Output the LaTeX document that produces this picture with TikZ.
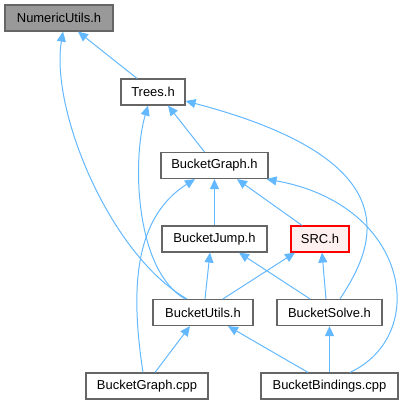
\documentclass[tikz,border=0pt]{standalone}
\usepackage{fontspec}
\setmainfont{Liberation Sans}
\usetikzlibrary{arrows.meta,calc}
\definecolor{boxgray}{HTML}{666666}
\definecolor{fillgray}{HTML}{999999}
\definecolor{edgeblue}{HTML}{63B8FF}
\definecolor{srcfill}{HTML}{FFF0F0}
\tikzset{
  box/.style={draw=boxgray, line width=1.2bp, fill=white, minimum height=26bp, inner sep=0pt, font=\fontsize{13}{15}\selectfont, text=black},
  edge/.style={draw=edgeblue, line width=1bp, -{Triangle[length=10bp,width=9bp]}}
}
\begin{document}
\begin{tikzpicture}[x=1bp,y=-1bp]
\useasboundingbox (0,0) rectangle (408,405);
\node[box, fill=fillgray, minimum width=108bp] (num) at (59,18) {NumericUtils.h};
\node[box, minimum width=64bp] (trees) at (153,92) {Trees.h};
\node[box, minimum width=107bp] (bgh) at (214.5,165.5) {BucketGraph.h};
\node[box, minimum width=105bp] (bjump) at (214.5,239) {BucketJump.h};
\node[box, draw=red, fill=srcfill, minimum width=58bp] (src) at (320,239) {SRC.h};
\node[box, minimum width=100bp] (butils) at (203,312.5) {BucketUtils.h};
\node[box, minimum width=105bp] (bsolve) at (329.5,312.5) {BucketSolve.h};
\node[box, minimum width=122bp] (bgcpp) at (147,386) {BucketGraph.cpp};
\node[box, minimum width=137bp] (bbind) at (329.5,386) {BucketBindings.cpp};

\draw[edge] ($(trees.north)+(-16,0)$) -- ($(num.south)+(19,0)$);
\draw[edge] ($(butils.north)+(-16,0)$) .. controls (110,255) and (50,110) .. ($(num.south)+(4,0)$);
\draw[edge] ($(butils.north)+(-18,0)$) .. controls (135,270) and (132,160) .. ($(trees.south)+(-5,0)$);
\draw[edge] ($(bgh.north)+(-10,0)$) -- ($(trees.south)+(15,0)$);
\draw[edge] ($(bsolve.north)+(10.5,0)$) .. controls (372,250) and (418,162) .. ($(trees.east)+(0,9)$);
\draw[edge] (bjump.north) -- (bgh.south);
\draw[edge] ($(src.north)+(-18,0)$) -- ($(bgh.south)+(22.5,0)$);
\draw[edge] ($(bgcpp.north)+(-4,0)$) .. controls (132,300) and (130,220) .. ($(bgh.south)+(-19.5,0)$);
\draw[edge] ($(bbind.north)+(20.5,0)$) .. controls (430,335) and (410,205) .. ($(bgh.south east)+(-2,0)$);
\draw[edge] ($(butils.north)+(2,0)$) -- ($(bjump.south)+(-4.5,0)$);
\draw[edge] ($(bsolve.north)+(-19.5,0)$) -- ($(bjump.south)+(24.5,0)$);
\draw[edge] ($(butils.north)+(20,0)$) -- ($(src.south)+(-25,0)$);
\draw[edge] ($(bsolve.north)+(-3.5,0)$) -- ($(src.south)+(2,0)$);
\draw[edge] ($(bgcpp.north)+(8,0)$) -- ($(butils.south)+(-13,0)$);
\draw[edge] ($(bbind.north)+(-21.5,0)$) -- ($(butils.south)+(25,0)$);
\draw[edge] (bbind.north) -- (bsolve.south);
\end{tikzpicture}
\end{document}
